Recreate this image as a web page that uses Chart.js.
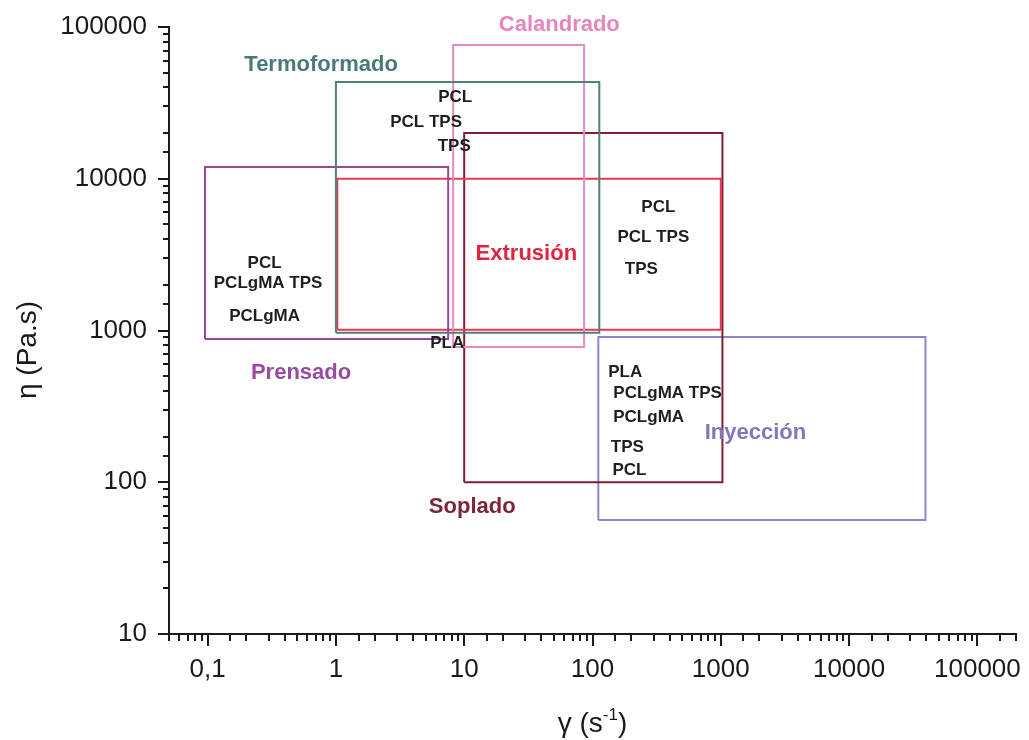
<!DOCTYPE html>
<html>
<head>
<meta charset="utf-8">
<script src="https://cdn.jsdelivr.net/npm/chart.js@4.4.1/dist/chart.umd.min.js"></script>
<style>
  html, body { margin: 0; padding: 0; background: #ffffff; }
  #wrap { width: 1029px; height: 740px; position: relative; }
</style>
</head>
<body>
<div id="wrap"><canvas id="c"></canvas></div>
<script>
// Processing windows: shear-rate range (s^-1) and viscosity range (Pa.s)
const processes   = ['Termoformado', 'Calandrado', 'Prensado', 'Extrusión', 'Soplado', 'Inyección'];
const rateMin     = [1.0,   8.2,   0.0954, 1.025, 10,    111];
const rateMax     = [113,   86,    7.5,    1000,  1030,  39400];
const viscMin     = [965,   778,   879,    1010,  100,   56.4];
const viscMax     = [43400, 76100, 11950,  10000, 20000, 906];
const processColors = ['#4f807b', '#e48cc0', '#9a469c', '#e8394f', '#7e1f36', '#8c87c8'];
const processTextColors = ['#4a7a76', '#e486bd', '#9a4aa0', '#e3243f', '#7d2539', '#8078bb'];

// Where each process name sits (data coordinates)
const processLabelX = [0.767, 55.1,   0.535, 30.5, 11.55, 1862];
const processLabelY = [57900, 106300, 541,   3291, 70.8,  217.6];

// Materials written inside the windows (data coordinates)
const materials = ['PCL', 'PCL TPS', 'TPS',
                   'PCL', 'PCLgMA TPS', 'PCLgMA', 'PLA',
                   'PCL', 'PCL TPS', 'TPS',
                   'PLA', 'PCLgMA TPS', 'PCLgMA', 'TPS', 'PCL'];
const materialX = [8.51, 5.05, 8.36,
                   0.278, 0.296, 0.278, 7.37,
                   326, 298, 240,
                   180, 385, 274, 187, 194];
const materialY = [35640, 24390, 16940,
                   2871, 2120, 1284, 853,
                   6714, 4259, 2621,
                   549, 399, 277.5, 176, 124];

// Axis ticks
const xTickValues = [0.1, 1, 10, 100, 1000, 10000, 100000];
const xTickLabels = ['0,1', '1', '10', '100', '1000', '10000', '100000'];
const yTickValues = [10, 100, 1000, 10000, 100000];
const yTickLabels = ['10', '100', '1000', '10000', '100000'];

const FONT = "'Liberation Sans', Arial, Helvetica, sans-serif";
Chart.defaults.font.family = FONT;

function labelFor(values, labels) {
  return function (val) {
    const i = values.findIndex(v => Math.abs(Math.log10(v) - Math.log10(val)) < 1e-6);
    return i >= 0 ? labels[i] : '';
  };
}

const datasets = processes.map((name, i) => ({
  label: name,
  data: [
    { x: rateMin[i], y: viscMin[i] },
    { x: rateMax[i], y: viscMin[i] },
    { x: rateMax[i], y: viscMax[i] },
    { x: rateMin[i], y: viscMax[i] },
    { x: rateMin[i], y: viscMin[i] }
  ],
  showLine: true,
  fill: false,
  tension: 0,
  borderColor: processColors[i],
  borderWidth: 2,
  borderJoinStyle: 'miter',
  pointRadius: 0,
  pointHoverRadius: 0
}));

// Tick marks: long at decades, short at the intermediate log steps
const tickMarks = {
  id: 'tickMarks',
  afterDraw(chart) {
    const ctx = chart.ctx, area = chart.chartArea;
    const xs = chart.scales.x, ys = chart.scales.y;
    ctx.save();
    ctx.strokeStyle = '#1a1a1a';
    ctx.lineCap = 'butt';
    ctx.lineWidth = 2;
    xs.ticks.forEach(t => {
      const major = Math.abs(Math.log10(t.value) - Math.round(Math.log10(t.value))) < 1e-6;
      const px = Math.round(xs.getPixelForValue(t.value));
      ctx.beginPath();
      ctx.moveTo(px, area.bottom);
      ctx.lineTo(px, area.bottom + (major ? 12 : 7));
      ctx.stroke();
    });
    ys.ticks.forEach(t => {
      const major = Math.abs(Math.log10(t.value) - Math.round(Math.log10(t.value))) < 1e-6;
      const py = Math.round(ys.getPixelForValue(t.value));
      ctx.beginPath();
      ctx.moveTo(area.left, py);
      ctx.lineTo(area.left - (major ? 11 : 6), py);
      ctx.stroke();
    });
    ctx.restore();
  }
};

// Process names and material labels
const annotations = {
  id: 'annotations',
  afterDatasetsDraw(chart) {
    const ctx = chart.ctx;
    const xs = chart.scales.x, ys = chart.scales.y;
    ctx.save();
    ctx.textAlign = 'center';
    ctx.textBaseline = 'middle';
    ctx.font = 'bold 22px ' + FONT;
    processes.forEach((name, i) => {
      ctx.fillStyle = processTextColors[i];
      ctx.fillText(name, xs.getPixelForValue(processLabelX[i]), ys.getPixelForValue(processLabelY[i]) + 2);
    });
    ctx.font = 'bold 17px ' + FONT;
    ctx.fillStyle = '#1e1e1e';
    materials.forEach((m, i) => {
      ctx.fillText(m, xs.getPixelForValue(materialX[i]), ys.getPixelForValue(materialY[i]) + 2);
    });
    ctx.restore();
  }
};

// Axis titles
const axisTitles = {
  id: 'axisTitles',
  afterDraw(chart) {
    const ctx = chart.ctx, area = chart.chartArea;
    ctx.save();
    ctx.fillStyle = '#1a1a1a';
    ctx.translate(28, 350);
    ctx.rotate(-Math.PI / 2);
    ctx.font = '28px ' + FONT;
    ctx.textAlign = 'center';
    ctx.textBaseline = 'middle';
    ctx.fillText('\u03b7 (Pa.s)', 0, 0);
    ctx.restore();

    ctx.save();
    ctx.fillStyle = '#1a1a1a';
    ctx.textBaseline = 'alphabetic';
    const base = '28px ' + FONT, sup = '17px ' + FONT;
    const p1 = '\u03b3 (s', p2 = '-1', p3 = ')';
    ctx.font = base; const w1 = ctx.measureText(p1).width, w3 = ctx.measureText(p3).width;
    ctx.font = sup;  const w2 = ctx.measureText(p2).width;
    const total = w1 + w2 + w3;
    let x = (area.left + area.right) / 2 - total / 2;
    const y = 732;
    ctx.font = base; ctx.fillText(p1, x, y); x += w1;
    ctx.font = sup;  ctx.fillText(p2, x, y - 12); x += w2;
    ctx.font = base; ctx.fillText(p3, x, y);
    ctx.restore();
  }
};

new Chart(document.getElementById('c'), {
  type: 'scatter',
  data: { datasets },
  options: {
    responsive: true,
    maintainAspectRatio: false,
    animation: false,
    layout: { padding: { left: 0, top: 27, right: 13, bottom: 0 } },
    plugins: { legend: { display: false }, tooltip: { enabled: false } },
    scales: {
      x: {
        type: 'logarithmic',
        min: 0.05,
        max: 200000,
        grid: { display: false, drawTicks: true, tickLength: 12 },
        border: { display: true, color: '#1a1a1a', width: 2 },
        ticks: {
          autoSkip: false,
          maxRotation: 0,
          minRotation: 0,
          padding: 8,
          color: '#1a1a1a',
          font: { size: 26 },
          callback: labelFor(xTickValues, xTickLabels)
        },
        afterFit(scale) { scale.height = 106; }
      },
      y: {
        type: 'logarithmic',
        min: 10,
        max: 100000,
        grid: { display: false, drawTicks: true, tickLength: 11 },
        border: { display: true, color: '#1a1a1a', width: 2 },
        ticks: {
          autoSkip: false,
          padding: 11,
          color: '#1a1a1a',
          font: { size: 26 },
          callback: labelFor(yTickValues, yTickLabels)
        },
        afterFit(scale) { scale.width = 169; }
      }
    }
  },
  plugins: [tickMarks, annotations, axisTitles]
});
</script>
</body>
</html>
